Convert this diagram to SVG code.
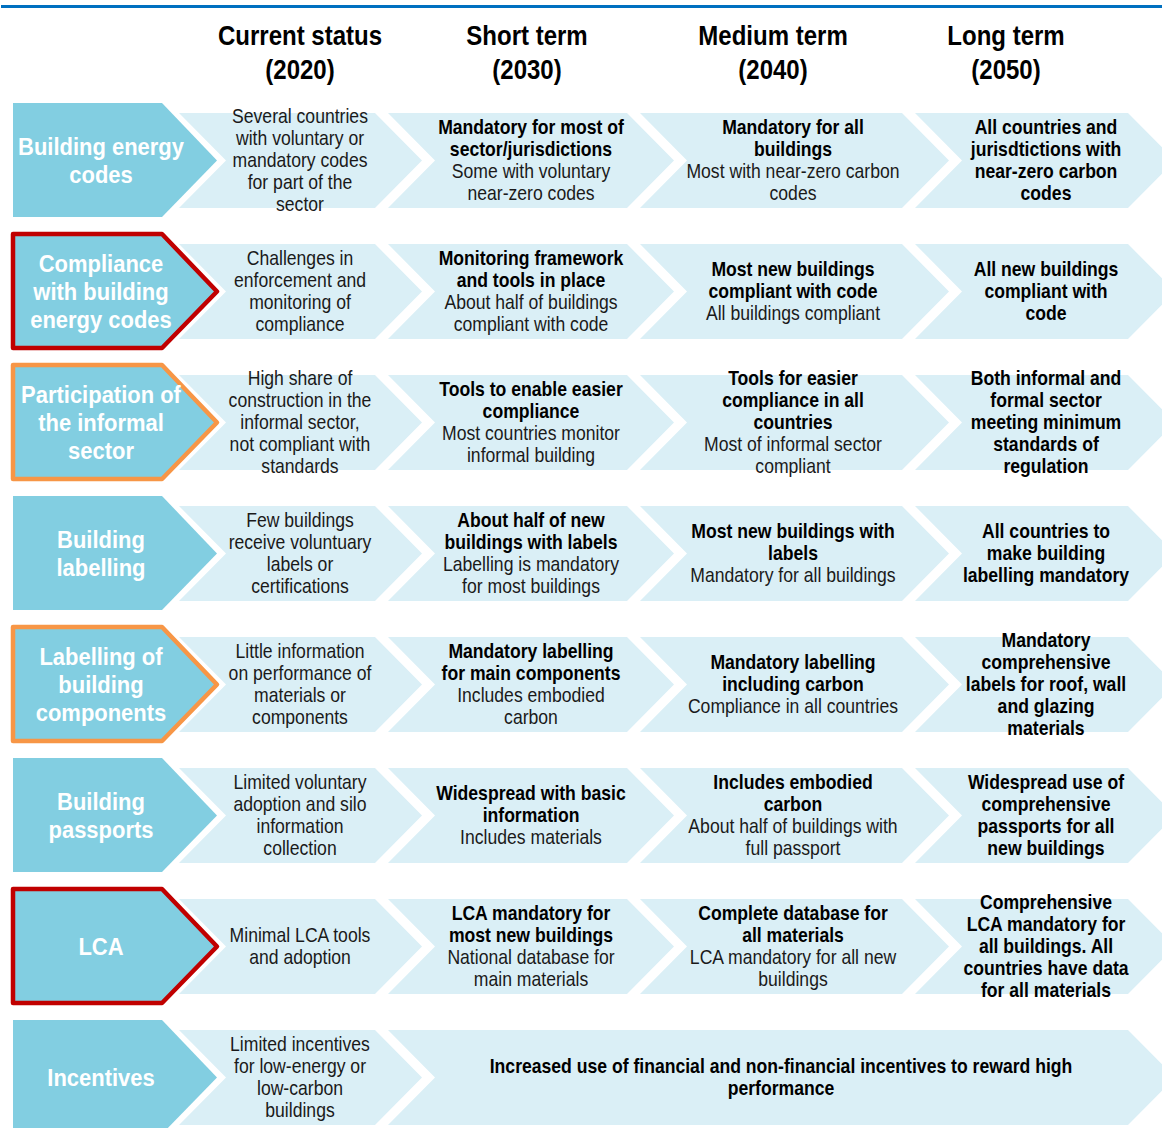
<svg xmlns="http://www.w3.org/2000/svg" xmlns:xlink="http://www.w3.org/1999/xlink" width="1162" height="1128" viewBox="0 0 1162 1128">
<style>
text{font-family:"Liberation Sans",Arial,sans-serif;text-anchor:middle}
.hd{font-size:27px;font-weight:bold;fill:#000}
.lt{font-size:24px;font-weight:bold;fill:#fff}
.ct{font-size:20px;fill:#1a1a1a}
.b{font-weight:bold;fill:#000}
.lbl{fill:#82CEE1}
.cell{fill:#DAEFF6}
.red{stroke:#C00000;stroke-width:4.5;stroke-linejoin:round}
.org{stroke:#F79646;stroke-width:4.5;stroke-linejoin:round}
</style>
<defs>
<polygon id="lbl" points="13,103 162,103 217,160.5 162,217 13,217"/>
<polygon id="c1" points="179,113 375,113 422,160.5 375,208 179,208 226,160.5"/>
<polygon id="c2" points="388,113 627,113 674,160.5 627,208 388,208 435,160.5"/>
<polygon id="c3" points="640,113 902,113 949,160.5 902,208 640,208 687,160.5"/>
<polygon id="c4" points="915,113 1128,113 1175,160.5 1128,208 915,208 962,160.5"/>
<polygon id="cwide" points="388,113 1128,113 1175,160.5 1128,208 388,208 435,160.5"/>
</defs>
<rect x="1" y="5" width="1161" height="3" fill="#0070C0"/>
<g id="headers">
<text class="hd" transform="translate(300 0) scale(0.89 1)" y="45"><tspan x="0">Current status</tspan><tspan x="0" dy="34">(2020)</tspan></text>
<text class="hd" transform="translate(527 0) scale(0.89 1)" y="45"><tspan x="0">Short term</tspan><tspan x="0" dy="34">(2030)</tspan></text>
<text class="hd" transform="translate(773 0) scale(0.89 1)" y="45"><tspan x="0">Medium term</tspan><tspan x="0" dy="34">(2040)</tspan></text>
<text class="hd" transform="translate(1006 0) scale(0.89 1)" y="45"><tspan x="0">Long term</tspan><tspan x="0" dy="34">(2050)</tspan></text>
</g>
<g id="connectors"></g>

<!-- Row 1 -->
<g id="r1-label"><use xlink:href="#lbl" class="lbl"/><text class="lt" transform="translate(101 0) scale(0.915 1)" y="155"><tspan x="0">Building energy</tspan><tspan x="0" dy="28">codes</tspan></text></g>
<g id="r1-c1"><use xlink:href="#c1" class="cell"/><text class="ct" transform="translate(300 0) scale(0.88 1)" y="123.5"><tspan x="0">Several countries</tspan><tspan x="0" dy="22">with voluntary or</tspan><tspan x="0" dy="22">mandatory codes</tspan><tspan x="0" dy="22">for part of the</tspan><tspan x="0" dy="22">sector</tspan></text></g>
<g id="r1-c2"><use xlink:href="#c2" class="cell"/><text class="ct" transform="translate(531 0) scale(0.88 1)" y="134.5"><tspan x="0" class="b">Mandatory for most of</tspan><tspan x="0" dy="22" class="b">sector/jurisdictions</tspan><tspan x="0" dy="22">Some with voluntary</tspan><tspan x="0" dy="22">near-zero codes</tspan></text></g>
<g id="r1-c3"><use xlink:href="#c3" class="cell"/><text class="ct" transform="translate(793 0) scale(0.88 1)" y="134.5"><tspan x="0" class="b">Mandatory for all</tspan><tspan x="0" dy="22" class="b">buildings</tspan><tspan x="0" dy="22">Most with near-zero carbon</tspan><tspan x="0" dy="22">codes</tspan></text></g>
<g id="r1-c4"><use xlink:href="#c4" class="cell"/><text class="ct b" transform="translate(1046 0) scale(0.88 1)" y="134.5"><tspan x="0">All countries and</tspan><tspan x="0" dy="22">jurisdtictions with</tspan><tspan x="0" dy="22">near-zero carbon</tspan><tspan x="0" dy="22">codes</tspan></text></g>

<!-- Row 2 -->
<g id="r2-label" transform="translate(0,131)"><use xlink:href="#lbl" class="lbl red"/><text class="lt" transform="translate(101 0) scale(0.915 1)" y="141"><tspan x="0">Compliance</tspan><tspan x="0" dy="28">with building</tspan><tspan x="0" dy="28">energy codes</tspan></text></g>
<g id="r2-c1" transform="translate(0,131)"><use xlink:href="#c1" class="cell"/><text class="ct" transform="translate(300 0) scale(0.88 1)" y="134.5"><tspan x="0">Challenges in</tspan><tspan x="0" dy="22">enforcement and</tspan><tspan x="0" dy="22">monitoring of</tspan><tspan x="0" dy="22">compliance</tspan></text></g>
<g id="r2-c2" transform="translate(0,131)"><use xlink:href="#c2" class="cell"/><text class="ct" transform="translate(531 0) scale(0.88 1)" y="134.5"><tspan x="0" class="b">Monitoring framework</tspan><tspan x="0" dy="22" class="b">and tools in place</tspan><tspan x="0" dy="22">About half of buildings</tspan><tspan x="0" dy="22">compliant with code</tspan></text></g>
<g id="r2-c3" transform="translate(0,131)"><use xlink:href="#c3" class="cell"/><text class="ct" transform="translate(793 0) scale(0.88 1)" y="145.5"><tspan x="0" class="b">Most new buildings</tspan><tspan x="0" dy="22" class="b">compliant with code</tspan><tspan x="0" dy="22">All buildings compliant</tspan></text></g>
<g id="r2-c4" transform="translate(0,131)"><use xlink:href="#c4" class="cell"/><text class="ct b" transform="translate(1046 0) scale(0.88 1)" y="145.5"><tspan x="0">All new buildings</tspan><tspan x="0" dy="22">compliant with</tspan><tspan x="0" dy="22">code</tspan></text></g>

<!-- Row 3 -->
<g id="r3-label" transform="translate(0,262)"><use xlink:href="#lbl" class="lbl org"/><text class="lt" transform="translate(101 0) scale(0.915 1)" y="141"><tspan x="0">Participation of</tspan><tspan x="0" dy="28">the informal</tspan><tspan x="0" dy="28">sector</tspan></text></g>
<g id="r3-c1" transform="translate(0,262)"><use xlink:href="#c1" class="cell"/><text class="ct" transform="translate(300 0) scale(0.88 1)" y="123.5"><tspan x="0">High share of</tspan><tspan x="0" dy="22">construction in the</tspan><tspan x="0" dy="22">informal sector,</tspan><tspan x="0" dy="22">not compliant with</tspan><tspan x="0" dy="22">standards</tspan></text></g>
<g id="r3-c2" transform="translate(0,262)"><use xlink:href="#c2" class="cell"/><text class="ct" transform="translate(531 0) scale(0.88 1)" y="134.5"><tspan x="0" class="b">Tools to enable easier</tspan><tspan x="0" dy="22" class="b">compliance</tspan><tspan x="0" dy="22">Most countries monitor</tspan><tspan x="0" dy="22">informal building</tspan></text></g>
<g id="r3-c3" transform="translate(0,262)"><use xlink:href="#c3" class="cell"/><text class="ct" transform="translate(793 0) scale(0.88 1)" y="123.5"><tspan x="0" class="b">Tools for easier</tspan><tspan x="0" dy="22" class="b">compliance in all</tspan><tspan x="0" dy="22" class="b">countries</tspan><tspan x="0" dy="22">Most of informal sector</tspan><tspan x="0" dy="22">compliant</tspan></text></g>
<g id="r3-c4" transform="translate(0,262)"><use xlink:href="#c4" class="cell"/><text class="ct b" transform="translate(1046 0) scale(0.88 1)" y="123.5"><tspan x="0">Both informal and</tspan><tspan x="0" dy="22">formal sector</tspan><tspan x="0" dy="22">meeting minimum</tspan><tspan x="0" dy="22">standards of</tspan><tspan x="0" dy="22">regulation</tspan></text></g>

<!-- Row 4 -->
<g id="r4-label" transform="translate(0,393)"><use xlink:href="#lbl" class="lbl"/><text class="lt" transform="translate(101 0) scale(0.915 1)" y="155"><tspan x="0">Building</tspan><tspan x="0" dy="28">labelling</tspan></text></g>
<g id="r4-c1" transform="translate(0,393)"><use xlink:href="#c1" class="cell"/><text class="ct" transform="translate(300 0) scale(0.88 1)" y="134.5"><tspan x="0">Few buildings</tspan><tspan x="0" dy="22">receive voluntuary</tspan><tspan x="0" dy="22">labels or</tspan><tspan x="0" dy="22">certifications</tspan></text></g>
<g id="r4-c2" transform="translate(0,393)"><use xlink:href="#c2" class="cell"/><text class="ct" transform="translate(531 0) scale(0.88 1)" y="134.5"><tspan x="0" class="b">About half of new</tspan><tspan x="0" dy="22" class="b">buildings with labels</tspan><tspan x="0" dy="22">Labelling is mandatory</tspan><tspan x="0" dy="22">for most buildings</tspan></text></g>
<g id="r4-c3" transform="translate(0,393)"><use xlink:href="#c3" class="cell"/><text class="ct" transform="translate(793 0) scale(0.88 1)" y="145.5"><tspan x="0" class="b">Most new buildings with</tspan><tspan x="0" dy="22" class="b">labels</tspan><tspan x="0" dy="22">Mandatory for all buildings</tspan></text></g>
<g id="r4-c4" transform="translate(0,393)"><use xlink:href="#c4" class="cell"/><text class="ct b" transform="translate(1046 0) scale(0.88 1)" y="145.5"><tspan x="0">All countries to</tspan><tspan x="0" dy="22">make building</tspan><tspan x="0" dy="22">labelling mandatory</tspan></text></g>

<!-- Row 5 -->
<g id="r5-label" transform="translate(0,524)"><use xlink:href="#lbl" class="lbl org"/><text class="lt" transform="translate(101 0) scale(0.915 1)" y="141"><tspan x="0">Labelling of</tspan><tspan x="0" dy="28">building</tspan><tspan x="0" dy="28">components</tspan></text></g>
<g id="r5-c1" transform="translate(0,524)"><use xlink:href="#c1" class="cell"/><text class="ct" transform="translate(300 0) scale(0.88 1)" y="134.5"><tspan x="0">Little information</tspan><tspan x="0" dy="22">on performance of</tspan><tspan x="0" dy="22">materials or</tspan><tspan x="0" dy="22">components</tspan></text></g>
<g id="r5-c2" transform="translate(0,524)"><use xlink:href="#c2" class="cell"/><text class="ct" transform="translate(531 0) scale(0.88 1)" y="134.5"><tspan x="0" class="b">Mandatory labelling</tspan><tspan x="0" dy="22" class="b">for main components</tspan><tspan x="0" dy="22">Includes embodied</tspan><tspan x="0" dy="22">carbon</tspan></text></g>
<g id="r5-c3" transform="translate(0,524)"><use xlink:href="#c3" class="cell"/><text class="ct" transform="translate(793 0) scale(0.88 1)" y="145.5"><tspan x="0" class="b">Mandatory labelling</tspan><tspan x="0" dy="22" class="b">including carbon</tspan><tspan x="0" dy="22">Compliance in all countries</tspan></text></g>
<g id="r5-c4" transform="translate(0,524)"><use xlink:href="#c4" class="cell"/><text class="ct b" transform="translate(1046 0) scale(0.88 1)" y="123.5"><tspan x="0">Mandatory</tspan><tspan x="0" dy="22">comprehensive</tspan><tspan x="0" dy="22">labels for roof, wall</tspan><tspan x="0" dy="22">and glazing</tspan><tspan x="0" dy="22">materials</tspan></text></g>

<!-- Row 6 -->
<g id="r6-label" transform="translate(0,655)"><use xlink:href="#lbl" class="lbl"/><text class="lt" transform="translate(101 0) scale(0.915 1)" y="155"><tspan x="0">Building</tspan><tspan x="0" dy="28">passports</tspan></text></g>
<g id="r6-c1" transform="translate(0,655)"><use xlink:href="#c1" class="cell"/><text class="ct" transform="translate(300 0) scale(0.88 1)" y="134.5"><tspan x="0">Limited voluntary</tspan><tspan x="0" dy="22">adoption and silo</tspan><tspan x="0" dy="22">information</tspan><tspan x="0" dy="22">collection</tspan></text></g>
<g id="r6-c2" transform="translate(0,655)"><use xlink:href="#c2" class="cell"/><text class="ct" transform="translate(531 0) scale(0.88 1)" y="145.5"><tspan x="0" class="b">Widespread with basic</tspan><tspan x="0" dy="22" class="b">information</tspan><tspan x="0" dy="22">Includes materials</tspan></text></g>
<g id="r6-c3" transform="translate(0,655)"><use xlink:href="#c3" class="cell"/><text class="ct" transform="translate(793 0) scale(0.88 1)" y="134.5"><tspan x="0" class="b">Includes embodied</tspan><tspan x="0" dy="22" class="b">carbon</tspan><tspan x="0" dy="22">About half of buildings with</tspan><tspan x="0" dy="22">full passport</tspan></text></g>
<g id="r6-c4" transform="translate(0,655)"><use xlink:href="#c4" class="cell"/><text class="ct b" transform="translate(1046 0) scale(0.88 1)" y="134.5"><tspan x="0">Widespread use of</tspan><tspan x="0" dy="22">comprehensive</tspan><tspan x="0" dy="22">passports for all</tspan><tspan x="0" dy="22">new buildings</tspan></text></g>

<!-- Row 7 -->
<g id="r7-label" transform="translate(0,786)"><use xlink:href="#lbl" class="lbl red"/><text class="lt" transform="translate(101 0) scale(0.915 1)" y="169"><tspan x="0">LCA</tspan></text></g>
<g id="r7-c1" transform="translate(0,786)"><use xlink:href="#c1" class="cell"/><text class="ct" transform="translate(300 0) scale(0.88 1)" y="156.5"><tspan x="0">Minimal LCA tools</tspan><tspan x="0" dy="22">and adoption</tspan></text></g>
<g id="r7-c2" transform="translate(0,786)"><use xlink:href="#c2" class="cell"/><text class="ct" transform="translate(531 0) scale(0.88 1)" y="134.5"><tspan x="0" class="b">LCA mandatory for</tspan><tspan x="0" dy="22" class="b">most new buildings</tspan><tspan x="0" dy="22">National database for</tspan><tspan x="0" dy="22">main materials</tspan></text></g>
<g id="r7-c3" transform="translate(0,786)"><use xlink:href="#c3" class="cell"/><text class="ct" transform="translate(793 0) scale(0.88 1)" y="134.5"><tspan x="0" class="b">Complete database for</tspan><tspan x="0" dy="22" class="b">all materials</tspan><tspan x="0" dy="22">LCA mandatory for all new</tspan><tspan x="0" dy="22">buildings</tspan></text></g>
<g id="r7-c4" transform="translate(0,786)"><use xlink:href="#c4" class="cell"/><text class="ct b" transform="translate(1046 0) scale(0.88 1)" y="123.5"><tspan x="0">Comprehensive</tspan><tspan x="0" dy="22">LCA mandatory for</tspan><tspan x="0" dy="22">all buildings. All</tspan><tspan x="0" dy="22">countries have data</tspan><tspan x="0" dy="22">for all materials</tspan></text></g>

<!-- Row 8 -->
<g id="r8-label" transform="translate(0,917)"><use xlink:href="#lbl" class="lbl"/><text class="lt" transform="translate(101 0) scale(0.915 1)" y="169"><tspan x="0">Incentives</tspan></text></g>
<g id="r8-c1" transform="translate(0,917)"><use xlink:href="#c1" class="cell"/><text class="ct" transform="translate(300 0) scale(0.88 1)" y="134.5"><tspan x="0">Limited incentives</tspan><tspan x="0" dy="22">for low-energy or</tspan><tspan x="0" dy="22">low-carbon</tspan><tspan x="0" dy="22">buildings</tspan></text></g>
<g id="r8-c2" transform="translate(0,917)"><use xlink:href="#cwide" class="cell"/><text class="ct b" transform="translate(781 0) scale(0.88 1)" y="156.5"><tspan x="0">Increased use of financial and non-financial incentives to reward high</tspan><tspan x="0" dy="22">performance</tspan></text></g>
</svg>
